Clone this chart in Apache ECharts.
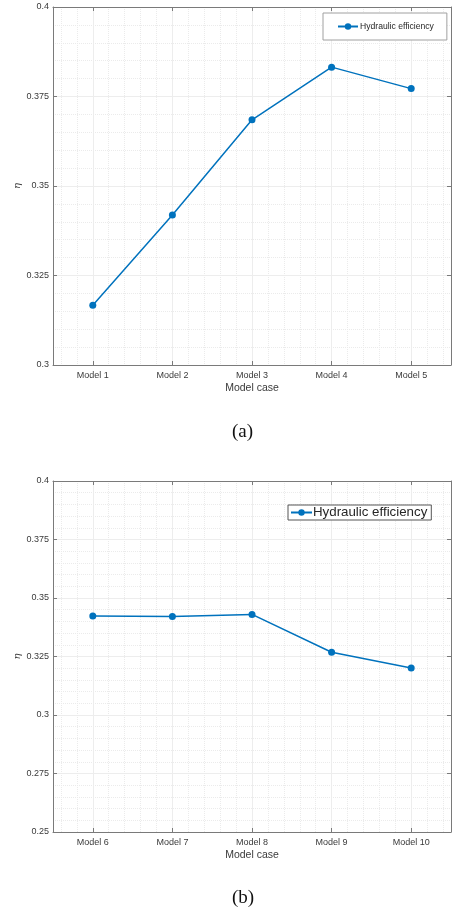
<!DOCTYPE html>
<html>
<head>
<meta charset="utf-8">
<script src="https://cdn.jsdelivr.net/npm/echarts@6/dist/echarts.min.js"></script>
<style>
html,body{margin:0;padding:0;background:#fff;}
#c{width:452px;height:910px;}
</style>
</head>
<body>
<div id="c"></div>
<script>
// ---- data ----
var categoriesA = ['Model 1', 'Model 2', 'Model 3', 'Model 4', 'Model 5'];
var efficiencyA = [0.3167, 0.3419, 0.3685, 0.3832, 0.3772];
var categoriesB = ['Model 6', 'Model 7', 'Model 8', 'Model 9', 'Model 10'];
var efficiencyB = [0.3423, 0.3421, 0.3430, 0.3268, 0.3201];
var yRangeA = [0.3, 0.4];
var yRangeB = [0.25, 0.4];
var yStep = 0.025;
var seriesName = 'Hydraulic efficiency';
var xAxisTitle = 'Model case';
var yAxisTitle = 'η';
var panelLabels = ['(a)', '(b)'];

// ---- styling ----
var FONT = 'Liberation Sans, Arial, sans-serif';
var AXIS_COLOR = '#7a7a7a';
var LABEL_COLOR = '#3a3a3a';
var LINE_COLOR = '#0072BD';
var MAJOR_GRID = '#ededed';
var MINOR_GRID = '#ebebeb';

var grids = [
  {left: 53, top: 7, width: 398, height: 358},
  {left: 53, top: 481, width: 398, height: 351}
];

// helper category lists used only to place vertical grid lines at band centres
var minorCells = Array.from({length: 50}, function (_, i) { return 'm' + i; });
var majorCells = Array.from({length: 10}, function (_, i) { return 'M' + i; });

var xAxes = [], yAxes = [], series = [];

function buildPanel(gi, cats, vals, yr) {
  var base = xAxes.length;
  xAxes.push({
    type: 'category', gridIndex: gi, position: 'bottom', data: cats,
    boundaryGap: true,
    axisLine: {show: true, lineStyle: {color: AXIS_COLOR, width: 1}},
    axisTick: {show: true, inside: true, length: 4, alignWithLabel: true, lineStyle: {color: AXIS_COLOR}},
    axisLabel: {show: true, margin: 6, fontSize: 9, fontFamily: FONT, color: LABEL_COLOR},
    splitLine: {show: false},
    name: xAxisTitle, nameLocation: 'middle', nameGap: 18,
    nameTextStyle: {fontSize: 10.5, fontFamily: FONT, color: LABEL_COLOR}
  });
  xAxes.push({
    type: 'category', gridIndex: gi, position: 'top', data: cats,
    boundaryGap: true,
    axisLine: {show: true, lineStyle: {color: AXIS_COLOR, width: 1}},
    axisTick: {show: true, inside: true, length: 4, alignWithLabel: true, lineStyle: {color: AXIS_COLOR}},
    axisLabel: {show: false},
    splitLine: {show: false}
  });
  xAxes.push({
    type: 'category', gridIndex: gi, data: minorCells, boundaryGap: true,
    axisLine: {show: false}, axisTick: {show: false}, axisLabel: {show: false},
    splitLine: {show: true, interval: function (idx) { return idx % 2 === 1 && idx % 10 !== 5; },
      lineStyle: {color: MINOR_GRID, type: [1, 1], width: 1}}
  });
  xAxes.push({
    type: 'category', gridIndex: gi, data: majorCells, boundaryGap: true,
    axisLine: {show: false}, axisTick: {show: false}, axisLabel: {show: false},
    splitLine: {show: true, interval: function (idx) { return idx % 2 === 1; },
      lineStyle: {color: MAJOR_GRID, width: 1}}
  });

  var ybase = yAxes.length;
  yAxes.push({
    type: 'value', gridIndex: gi, position: 'left', min: yr[0], max: yr[1], interval: yStep,
    axisLine: {show: true, lineStyle: {color: AXIS_COLOR, width: 1}},
    axisTick: {show: true, inside: true, length: 4, lineStyle: {color: AXIS_COLOR}},
    axisLabel: {show: true, margin: 4, fontSize: 9, fontFamily: FONT, color: LABEL_COLOR,
      formatter: function (v) { return String(+v.toFixed(3)); }},
    splitLine: {show: true, lineStyle: {color: MAJOR_GRID, width: 1}},
    minorTick: {show: false, splitNumber: 5},
    minorSplitLine: {show: true, lineStyle: {color: MINOR_GRID, type: [1, 1], width: 1}},
    name: yAxisTitle, nameLocation: 'middle', nameGap: 31, nameRotate: 90,
    nameMoveOverlap: false,
    nameTextStyle: {fontSize: 10, fontStyle: 'italic', fontFamily: 'DejaVu Serif, serif', color: LABEL_COLOR}
  });
  yAxes.push({
    type: 'value', gridIndex: gi, position: 'right', min: yr[0], max: yr[1], interval: yStep,
    axisLine: {show: true, lineStyle: {color: AXIS_COLOR, width: 1}},
    axisTick: {show: true, inside: true, length: 4, lineStyle: {color: AXIS_COLOR}},
    axisLabel: {show: false},
    splitLine: {show: false}
  });

  series.push({
    name: seriesName, type: 'line', xAxisIndex: base, yAxisIndex: ybase,
    data: vals, symbol: 'circle', symbolSize: 7,
    lineStyle: {color: LINE_COLOR, width: 1.5},
    itemStyle: {color: LINE_COLOR},
    emphasis: {disabled: true}, animation: false, z: 5
  });
}

buildPanel(0, categoriesA, efficiencyA, yRangeA);
buildPanel(1, categoriesB, efficiencyB, yRangeB);

var option = {
  animation: false,
  backgroundColor: '#fff',
  grid: grids,
  xAxis: xAxes,
  yAxis: yAxes,
  series: series,
  legend: [
    {
      data: [seriesName], left: 323, top: 13,
      padding: [9, 13, 9, 14],
      itemWidth: 20, itemHeight: 8, itemGap: 0,
      borderColor: '#a0a0a0', borderWidth: 1, backgroundColor: '#fff',
      textStyle: {fontSize: 8.6, fontFamily: FONT, color: '#262626', padding: [0, 0, 0, -3]},
      selectedMode: false
    },
    {
      data: [seriesName], left: 288, top: 505,
      padding: [1, 4, 1, 2],
      itemWidth: 21, itemHeight: 8, itemGap: 0,
      borderColor: '#555', borderWidth: 1, backgroundColor: '#fff',
      textStyle: {fontSize: 13.3, fontFamily: FONT, color: '#262626', padding: [0, 0, 0, -4]},
      selectedMode: false
    }
  ],
  graphic: [
    {type: 'text', left: 232, top: 423, style: {text: panelLabels[0], fontSize: 19, fontFamily: 'Liberation Serif, Times New Roman, serif', fill: '#111'}},
    {type: 'text', left: 232, top: 889, style: {text: panelLabels[1], fontSize: 19, fontFamily: 'Liberation Serif, Times New Roman, serif', fill: '#111'}}
  ]
};

var chart = echarts.init(document.getElementById('c'), null, {renderer: 'canvas'});
chart.setOption(option);
</script>
</body>
</html>
